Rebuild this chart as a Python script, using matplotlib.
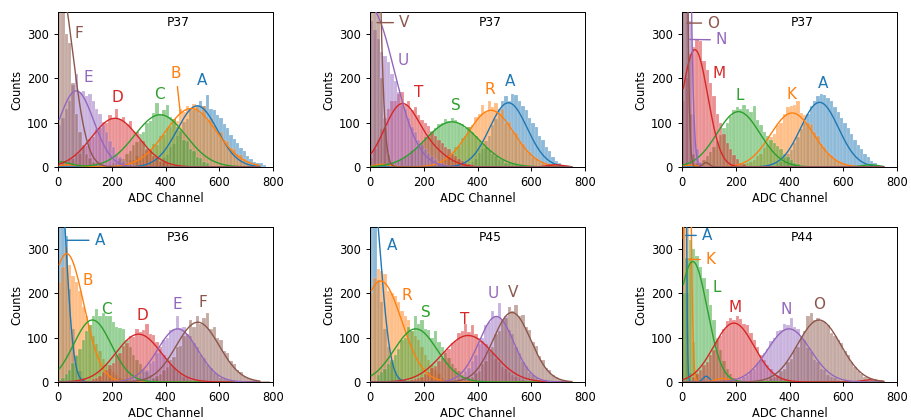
import numpy as np
import matplotlib
matplotlib.use("Agg")
import matplotlib.pyplot as plt

BIN_W = 12.5
titles = ["P37", "P37", "P37", "P36", "P45", "P44"]

# ---------------- Panel 1 (P37) ----------------
p1_labels = ["A", "B", "C", "D", "E", "F"]
p1_start = [375, 200, 175, 0, 0, 0]
p1_counts = [
    [12, 20, 28, 45, 52, 70, 80, 102, 108, 130, 128, 140, 150, 138, 162, 132, 128, 118, 110, 96, 88, 72, 64, 55, 42, 36, 25, 18, 12, 10, 8, 5],
    [3, 5, 5, 9, 10, 16, 15, 24, 20, 30, 36, 40, 52, 50, 70, 72, 88, 90, 108, 104, 130, 125, 138, 128, 142, 135, 120, 138, 105, 110, 95, 80, 78, 62, 58, 44, 40, 30, 26, 18, 12],
    [3, 4, 8, 10, 17, 19, 30, 36, 50, 56, 75, 80, 100, 104, 122, 145, 118, 128, 140, 112, 108, 90, 84, 62, 58, 40, 36, 22, 20, 12, 8],
    [6, 8, 10, 16, 18, 28, 30, 45, 48, 64, 68, 85, 88, 102, 100, 118, 110, 130, 108, 112, 98, 104, 82, 80, 60, 58, 40, 38, 24, 22, 14, 12, 8, 5],
    [95, 110, 130, 150, 185, 210, 170, 172, 160, 165, 150, 130, 120, 95, 80, 58, 45, 30, 22, 14, 8, 6, 4, 2],
    [420, 380, 300, 280, 190, 120, 80, 50, 30, 20, 12, 8, 5, 3, 2],
]
p1_fit = [[(138, 518, 75)], [(132, 495, 95), (5, 40, 40)], [(118, 380, 95), (12, 0, 45)],
          [(110, 212, 88)], [(172, 68, 65)], [(433, 0, 54)]]

# ---------------- Panel 2 (P37) ----------------
p2_labels = ["A", "R", "S", "T", "U", "V"]
p2_start = [375, 200, 50, 0, 0, 0]
p2_counts = [
    [12, 18, 32, 40, 58, 70, 95, 108, 130, 148, 160, 150, 165, 162, 150, 138, 128, 110, 100, 90, 70, 62, 45, 35, 22, 14, 8, 4],
    [2, 4, 5, 8, 9, 15, 18, 28, 30, 45, 48, 65, 70, 90, 95, 112, 120, 140, 125, 148, 135, 145, 122, 130, 100, 102, 80, 76, 58, 52, 38, 34, 22, 20, 12, 10, 6, 5, 3, 2],
    [4, 6, 9, 10, 15, 18, 25, 28, 36, 40, 52, 55, 68, 70, 82, 88, 98, 100, 108, 104, 110, 106, 100, 96, 88, 90, 78, 70, 60, 52, 45, 38, 30, 25, 18, 15, 10, 8, 6, 4, 3, 2],
    [20, 40, 60, 85, 110, 130, 150, 148, 165, 170, 140, 150, 128, 135, 118, 105, 100, 92, 80, 70, 62, 55, 45, 40, 30, 25, 18, 14, 10, 6, 4, 2],
    [330, 310, 290, 260, 250, 236, 210, 195, 170, 140, 130, 110, 90, 80, 62, 50, 40, 32, 24, 17, 12, 8, 5, 3],
    [600, 520, 380, 200, 90, 30, 10, 4, 2],
]
p2_fit = [[(145, 515, 70)], [(128, 450, 85), (6, 45, 30)], [(102, 305, 100)],
          [(140, 118, 65), (25, 240, 60), (5, 690, 30)], [(360, 0, 90)], [(1500, 0, 24)]]

# ---------------- Panel 3 (P37) ----------------
p3_labels = ["A", "K", "L", "M", "N", "O"]
p3_start = [350, 200, 50, 0, 0, 0]
p3_counts = [
    [8, 12, 20, 30, 38, 55, 68, 85, 100, 120, 138, 150, 160, 165, 162, 155, 150, 135, 125, 110, 100, 88, 75, 62, 50, 40, 30, 22, 14, 10],
    [2, 3, 6, 8, 12, 16, 25, 30, 44, 50, 68, 75, 95, 100, 120, 135, 138, 140, 148, 122, 118, 100, 98, 78, 70, 52, 46, 32, 28, 18, 14, 8, 6, 4, 2, 1],
    [6, 10, 16, 24, 34, 45, 58, 72, 88, 100, 115, 128, 135, 130, 140, 132, 125, 138, 105, 95, 80, 70, 60, 55, 48, 40, 30, 22, 15, 10, 6, 3],
    [150, 200, 255, 270, 290, 285, 240, 220, 190, 160, 120, 100, 75, 55, 40, 28, 18, 10, 6, 3],
    [700, 500, 330, 120, 40, 12, 4, 2],
    [900, 420, 120, 30, 8, 3],
]
p3_fit = [[(146, 512, 70)], [(122, 410, 80), (4, 30, 40)], [(125, 210, 80), (5, 700, 30)],
          [(265, 48, 48)], [(2500, 0, 18)], [(2000, 0, 12), (10, 90, 12)]]

# ---------------- Panel 4 (P36) ----------------
p4_labels = ["A", "B", "C", "D", "E", "F"]
p4_start = [0, 0, 0, 125, 275, 350]
p4_counts = [
    [520, 440, 330, 210, 120, 60, 25, 8, 3],
    [225, 260, 305, 265, 240, 225, 205, 170, 150, 128, 105, 85, 70, 52, 40, 30, 22, 15, 10, 6, 4, 2],
    [5, 10, 18, 28, 42, 58, 75, 95, 115, 128, 150, 165, 150, 155, 148, 150, 135, 125, 122, 120, 95, 78, 62, 50, 40, 30, 22, 15, 10, 6],
    [6, 10, 14, 22, 26, 38, 44, 60, 66, 82, 88, 105, 102, 120, 112, 118, 130, 108, 106, 90, 80, 60, 55, 38, 34, 22, 18, 12, 8, 5, 3],
    [6, 10, 14, 24, 28, 42, 48, 66, 75, 95, 100, 118, 120, 150, 122, 125, 108, 105, 88, 80, 60, 55, 38, 32, 20, 16, 9, 6, 4, 2],
    [8, 14, 18, 28, 34, 50, 56, 78, 82, 105, 108, 140, 125, 148, 132, 145, 155, 120, 125, 100, 95, 70, 65, 48, 40, 28, 22, 14, 10, 7, 5, 3, 2, 2, 2],
]
p4_fit = [[(524, 0, 29)], [(290, 32, 64)], [(140, 128, 70)], [(108, 300, 85)],
          [(120, 445, 75)], [(135, 520, 80)]]

# ---------------- Panel 5 (P45) ----------------
p5_labels = ["A", "R", "S", "T", "U", "V"]
p5_start = [0, 0, 25, 150, 300, 325]
p5_counts = [
    [520, 400, 230, 180, 120, 80, 45, 25, 12, 5, 2],
    [200, 235, 255, 250, 245, 205, 200, 195, 180, 160, 150, 140, 115, 105, 95, 80, 62, 50, 38, 26, 18, 10, 5, 2],
    [15, 22, 30, 40, 50, 62, 75, 95, 100, 125, 115, 150, 130, 140, 120, 118, 100, 115, 90, 80, 65, 55, 40, 32, 24, 16, 12, 8, 5, 3, 2],
    [4, 6, 10, 12, 18, 22, 32, 36, 48, 55, 70, 75, 88, 92, 110, 115, 130, 112, 128, 108, 100, 92, 85, 72, 65, 52, 45, 34, 30, 22, 16, 12, 8, 5, 3, 2],
    [3, 5, 9, 14, 24, 32, 48, 62, 85, 100, 128, 135, 160, 150, 178, 140, 150, 118, 108, 80, 66, 45, 36, 20, 15, 8, 5, 3],
    [2, 3, 5, 8, 12, 20, 25, 40, 48, 70, 80, 108, 115, 140, 145, 170, 160, 175, 150, 152, 125, 118, 90, 82, 58, 50, 32, 26, 15, 12, 6, 4, 3, 2, 1],
]
p5_fit = [[(483, 0, 38)], [(228, 40, 78)], [(120, 170, 80)], [(105, 365, 95)],
          [(148, 470, 65)], [(157, 528, 70)]]

# ---------------- Panel 6 (P44) ----------------
p6_labels = ["A", "K", "L", "M", "N", "O"]
p6_start = [0, 0, 0, 37.5, 200, 300]
p6_counts = [
    [900, 200, 20, 3],
    [600, 450, 280, 90, 20, 5],
    [200, 280, 320, 300, 285, 260, 235, 210, 175, 140, 100, 72, 48, 30, 18, 10, 5, 2],
    [12, 18, 26, 38, 45, 62, 72, 95, 105, 120, 138, 145, 140, 148, 142, 132, 128, 110, 95, 80, 62, 50, 38, 30, 20, 14, 8, 5, 3],
    [4, 7, 12, 16, 24, 30, 42, 50, 65, 75, 92, 100, 115, 118, 130, 128, 145, 125, 120, 100, 95, 76, 68, 50, 45, 30, 26, 16, 12, 8, 5, 3, 2],
    [3, 5, 8, 12, 16, 25, 30, 45, 52, 72, 80, 105, 115, 150, 156, 140, 145, 138, 136, 128, 110, 105, 95, 88, 70, 60, 45, 35, 25, 18, 12, 8, 5, 3, 2],
]
p6_fit = [[(3000, 5, 6), (13, 90, 12)], [(1000, 20, 10), (8, 150, 25)], [(272, 40, 54)],
          [(133, 193, 75), (5, 700, 30)], [(120, 398, 80)], [(140, 510, 80)]]

# ---------------- label placement (layout) ----------------
p_text_pos = [
    [(535, 196), (439, 211), (376, 163), (220, 158), (111, 202), (76, 302)],
    [(522, 192), (444, 174), (320, 139), (182, 168), (123, 240), (127, 326)],
    [(524, 189), (408, 163), (215, 162), (138, 212), (147, 287), (116, 325)],
    [(155, 320), (111, 229), (179, 163), (314, 150), (444, 174), (538, 180)],
    [(83, 308), (138, 195), (208, 156), (354, 142), (460, 199), (531, 203)],
    [(93, 331), (107, 276), (128, 214), (197, 168), (389, 163), (511, 176)],
]
p_line_to = [
    {1: (455, 122)},
    {5: (26, 326)},
    {5: (19, 325), 4: (29, 288)},
    {0: (34, 320)},
    {},
    {0: (14, 331), 1: (26, 277)},
]

panels = [
    (p1_labels, p1_start, p1_counts, p1_fit),
    (p2_labels, p2_start, p2_counts, p2_fit),
    (p3_labels, p3_start, p3_counts, p3_fit),
    (p4_labels, p4_start, p4_counts, p4_fit),
    (p5_labels, p5_start, p5_counts, p5_fit),
    (p6_labels, p6_start, p6_counts, p6_fit),
]

colors = plt.rcParams["axes.prop_cycle"].by_key()["color"]
FS = 8.3
LFS = 11

fig = plt.figure(figsize=(9.12, 4.2), dpi=100)
lefts = [58, 370, 682]
tops = [12, 227]
W, H = 215, 155

for k, (labels, starts, counts, fits) in enumerate(panels):
    r, c = divmod(k, 3)
    ax = fig.add_axes([lefts[c] / 912, 1 - (tops[r] + H) / 420, W / 912, H / 420])
    for i, lab in enumerate(labels):
        cnt = np.asarray(counts[i], dtype=float)
        edges = starts[i] + BIN_W * np.arange(len(cnt))
        ax.bar(edges, cnt, width=BIN_W, align="edge", color=colors[i], alpha=0.5,
               edgecolor=(1, 1, 1, 0.35), linewidth=0.2, zorder=1)
    for i, lab in enumerate(labels):
        xs = np.linspace(5, 750, 800)
        ys = np.zeros_like(xs)
        for a, m, s in fits[i]:
            ys += a * np.exp(-(xs - m) ** 2 / (2 * s ** 2))
        ax.plot(xs, ys, color=colors[i], lw=1.0, zorder=3)
    for i, lab in enumerate(labels):
        tx, ty = p_text_pos[k][i]
        if i in p_line_to[k]:
            ax.annotate(lab, xy=p_line_to[k][i], xytext=(tx, ty), color=colors[i],
                        fontsize=LFS, ha="center", va="center", zorder=4,
                        arrowprops=dict(arrowstyle="-", color=colors[i], lw=1.0,
                                        shrinkA=2, shrinkB=0))
        else:
            ax.text(tx, ty, lab, color=colors[i], fontsize=LFS, ha="center",
                    va="center", zorder=4)
    ax.text(447, 326, titles[k], ha="center", va="center", fontsize=8.8)
    ax.set_xlim(0, 800)
    ax.set_ylim(0, 350)
    ax.set_xticks([0, 200, 400, 600, 800])
    ax.set_yticks([0, 100, 200, 300])
    ax.tick_params(labelsize=FS, length=3, width=0.7)
    for sp in ax.spines.values():
        sp.set_linewidth(0.7)
    ax.set_xlabel("ADC Channel", fontsize=FS, labelpad=2)
    ax.set_ylabel("Counts", fontsize=FS, labelpad=3)

fig.savefig("out.png", dpi=100)
